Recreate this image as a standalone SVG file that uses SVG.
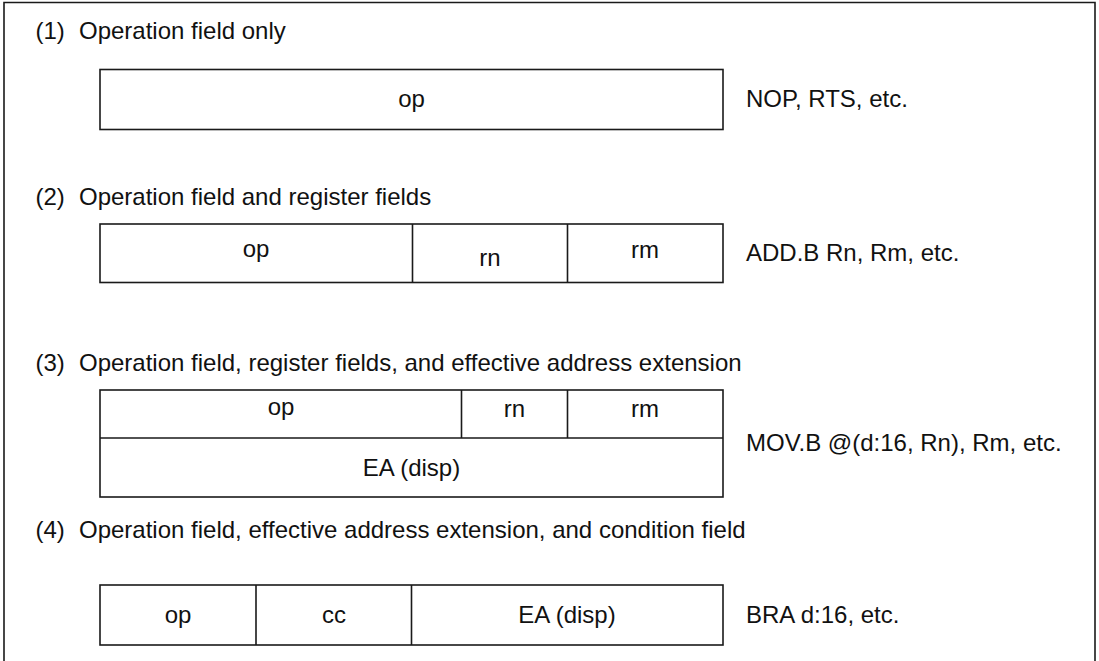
<svg xmlns="http://www.w3.org/2000/svg" width="1099" height="661" viewBox="0 0 1099 661">
<style>
  text { font-family: "Liberation Sans", Arial, sans-serif; font-size: 24px; fill: #111; }
  .c { text-anchor: middle; }
  .box { fill: #fff; stroke: #1a1a1a; stroke-width: 1.6; }
  .ln { stroke: #1a1a1a; stroke-width: 1.6; fill: none; }
</style>
<rect x="0" y="0" width="1099" height="661" fill="#fff"/>
<path class="ln" d="M4,700 V2.5 H1095 V700" stroke-width="2"/>

<g id="title1"><text x="35.5" y="39">(1)</text><text x="79" y="39">Operation field only</text></g>
<g id="fmt1">
  <rect class="box" x="100" y="69.5" width="623" height="60"/>
  <text class="c" x="411.5" y="107">op</text>
</g>
<g id="ex1"><text x="746" y="107">NOP, RTS, etc.</text></g>

<g id="title2"><text x="35.5" y="205">(2)</text><text x="79" y="205">Operation field and register fields</text></g>
<g id="fmt2">
  <rect class="box" x="100" y="224" width="623" height="58.5"/>
  <path class="ln" d="M412.5,224 V282.5 M567.5,224 V282.5"/>
  <text class="c" x="256" y="257">op</text>
  <text class="c" x="490" y="266">rn</text>
  <text class="c" x="645" y="258">rm</text>
</g>
<g id="ex2"><text x="746" y="261">ADD.B Rn, Rm, etc.</text></g>

<g id="title3"><text x="35.5" y="371">(3)</text><text x="79" y="371">Operation field, register fields, and effective address extension</text></g>
<g id="fmt3">
  <rect class="box" x="100" y="390" width="623" height="107"/>
  <path class="ln" d="M100,438 H723 M461.5,390 V438 M567.5,390 V438"/>
  <text class="c" x="281" y="415">op</text>
  <text class="c" x="514.5" y="417">rn</text>
  <text class="c" x="645" y="417">rm</text>
  <text class="c" x="411.5" y="476">EA (disp)</text>
</g>
<g id="ex3"><text x="746" y="451">MOV.B @(d:16, Rn), Rm, etc.</text></g>

<g id="title4"><text x="35.5" y="538">(4)</text><text x="79" y="538">Operation field, effective address extension, and condition field</text></g>
<g id="fmt4">
  <rect class="box" x="100" y="585" width="623" height="60"/>
  <path class="ln" d="M256,585 V645 M411.5,585 V645"/>
  <text class="c" x="178" y="623">op</text>
  <text class="c" x="334" y="623">cc</text>
  <text class="c" x="567" y="623">EA (disp)</text>
</g>
<g id="ex4"><text x="746" y="623">BRA d:16, etc.</text></g>
<g id="connectors"></g>
</svg>
